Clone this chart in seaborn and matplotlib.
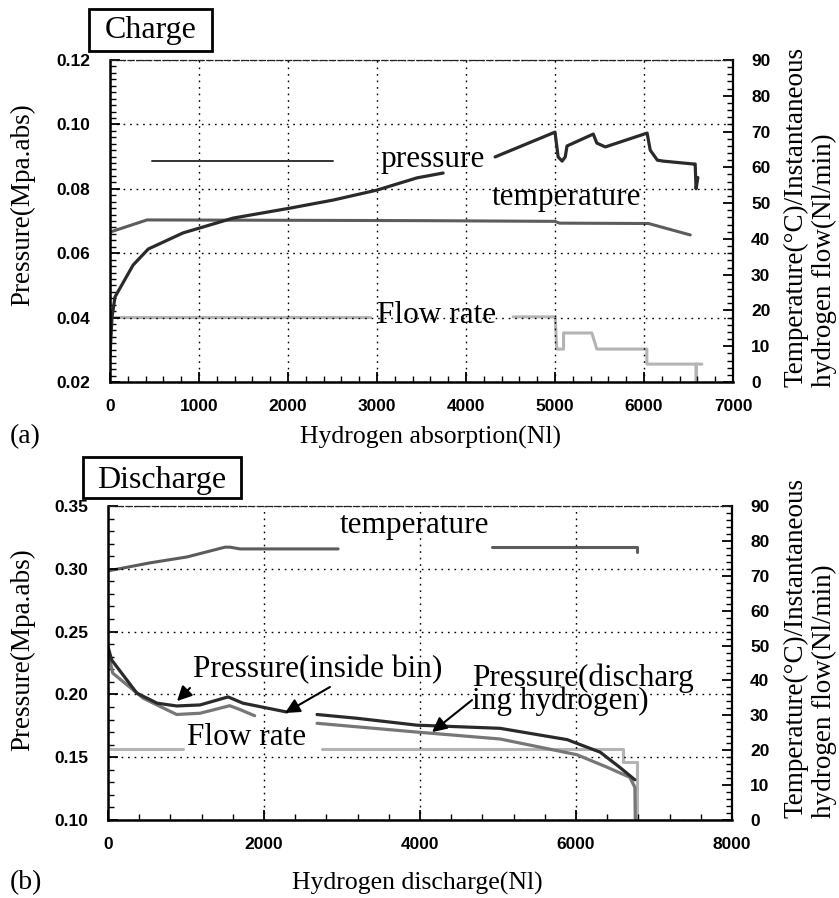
import matplotlib
matplotlib.use("Agg")
import matplotlib.pyplot as plt
import seaborn as sns
from matplotlib.ticker import MultipleLocator
from matplotlib.patches import Rectangle

# ---------------- data ----------------
# (a) Charge
charge_p_x = [0, 22, 56, 259, 430, 821, 1383, 2023, 2507, 3000, 3450, 3743, None,
              4327, 5000, 5035, 5080, 5115, 5135, 5430, 5470, 5565, 6035, 6070, 6150,
              6215, 6555, 6575, 6585, 6605]
charge_p_y = [0.028, 0.040, 0.0464, 0.0563, 0.0613, 0.0663, 0.0709, 0.0740, 0.0765, 0.0796,
              0.0834, 0.0849, None,
              0.0899, 0.0976, 0.0899, 0.0886, 0.0899, 0.0933, 0.0970, 0.0942, 0.0930, 0.0973,
              0.0920, 0.0889, 0.0886, 0.0877, 0.0877, 0.0800, 0.0835]
charge_t_x = [0, 416, 3500, 5000, 5050, 6050, 6520]
charge_t_y = [41.9, 45.3, 45.1, 44.9, 44.4, 44.3, 41.1]
charge_f_x = [0, 2922, None, 4530, 5002, 5020, 5096, 5096, 5414, 5470, 6032, 6032,
              6587, 6587, 6587, 6650]
charge_f_y = [18.2, 18.2, None, 18.2, 18.2, 9.2, 9.2, 13.7, 13.7, 9.2, 9.2, 5.0,
              5.0, 0.0, 5.0, 5.0]
charge_ref_x = [470, 2500]
charge_ref_y = [0.0885, 0.0885]

# (b) Discharge
dis_pin_x = [0, 47, 370, 630, 880, 1180, 1540, 1730, 2290, None,
             2680, 3190, 3960, 5026, 5885, 6310, 6560, 6755]
dis_pin_y = [0.238, 0.2274, 0.201, 0.193, 0.1908, 0.1916, 0.198, 0.193, 0.186, None,
             0.184, 0.181, 0.1755, 0.173, 0.164, 0.154, 0.142, 0.132]
dis_ph_x = [0, 60, 450, 880, 1180, 1560, 1690, 1880, None,
            2680, 3960, 5026, 6010, 6400, 6690, 6755, 6760]
dis_ph_y = [0.234, 0.217, 0.197, 0.184, 0.185, 0.191, 0.188, 0.183, None,
            0.177, 0.170, 0.1645, 0.152, 0.142, 0.134, 0.126, 0.100]
dis_t_x = [0, 538, 1013, 1500, 1564, 1692, 2950, None, 4923, 6782, 6782]
dis_t_y = [71.4, 73.7, 75.4, 78.2, 78.2, 77.7, 77.7, None, 78.2, 78.2, 76.8]
dis_f_x = [0, 960, None, 2740, 6603, 6603, 6777, 6777]
dis_f_y = [20.3, 20.3, None, 20.3, 20.3, 16.7, 16.7, 0.0]

charge_xticks = [0, 1000, 2000, 3000, 4000, 5000, 6000, 7000]
charge_yticks = [0.02, 0.04, 0.06, 0.08, 0.10, 0.12]
dis_xticks = [0, 2000, 4000, 6000, 8000]
dis_yticks = [0.10, 0.15, 0.20, 0.25, 0.30, 0.35]
right_ticks = [0, 10, 20, 30, 40, 50, 60, 70, 80, 90]

C_P = "#2a2a2a"
C_T = "#5c5c5c"
C_F = "#b4b4b4"
C_PH = "#777777"

# ---------------- style ----------------
sns.set_style("ticks")
plt.rcParams["font.family"] = ["Liberation Serif", "DejaVu Serif"]
plt.rcParams["text.color"] = "black"
plt.rcParams["xtick.color"] = "black"
plt.rcParams["ytick.color"] = "black"
plt.rcParams["xtick.labelcolor"] = "black"
plt.rcParams["ytick.labelcolor"] = "black"

fig = plt.figure(figsize=(8.39, 8.98), dpi=100)
W, H = 839, 898


def fx(px):
    return px / W


def fy(py):
    return 1 - py / H


def segments(xs, ys):
    segs, cx, cy = [], [], []
    for x, y in zip(xs, ys):
        if x is None:
            if cx:
                segs.append((cx, cy))
            cx, cy = [], []
        else:
            cx.append(x)
            cy.append(y)
    if cx:
        segs.append((cx, cy))
    return segs


def draw(ax, xs, ys, color, lw):
    for sx, sy in segments(xs, ys):
        sns.lineplot(x=sx, y=sy, ax=ax, color=color, lw=lw, estimator=None,
                     sort=False, legend=False)


TICKFONT = dict(fontfamily="Liberation Sans", fontweight="bold", fontsize=12.5,
                color="black")


def style(ax, ax2, xticks, yticks, xminor, yminor, yfmt):
    ax.set_xlim(xticks[0], xticks[-1])
    ax.set_ylim(yticks[0], yticks[-1])
    ax.set_xticks(xticks)
    ax.set_xticklabels([str(v) for v in xticks], **TICKFONT)
    ax.set_yticks(yticks)
    ax.set_yticklabels([yfmt % v for v in yticks], **TICKFONT)
    ax.xaxis.set_minor_locator(MultipleLocator(xminor))
    ax.yaxis.set_minor_locator(MultipleLocator(yminor))
    ax.tick_params(which="both", direction="in", top=False, right=False,
                   color="black")
    ax.tick_params(which="major", length=7, width=1.3)
    ax.tick_params(which="minor", length=4, width=1.0)
    ax.tick_params(axis="x", pad=12)
    ax.tick_params(axis="y", pad=14)
    ax.grid(True, which="major", ls=(0, (1.2, 3.5)), color="black", lw=1.0)
    for s in ("left", "bottom"):
        ax.spines[s].set_linewidth(1.8)
        ax.spines[s].set_color("black")
    ax.spines["top"].set_linewidth(0.9)
    ax.spines["top"].set_linestyle((0, (5, 2)))
    ax.spines["top"].set_color("#222222")
    ax.spines["right"].set_visible(False)

    ax2.set_ylim(0, 90)
    ax2.set_yticks(right_ticks)
    ax2.set_yticklabels([str(v) for v in right_ticks], **TICKFONT)
    ax2.yaxis.set_minor_locator(MultipleLocator(2))
    ax2.tick_params(which="both", direction="in", left=False, right=True,
                    color="black", pad=13)
    ax2.tick_params(which="major", length=7, width=1.3)
    ax2.tick_params(which="minor", length=4, width=1.0)
    for s in ("left", "top", "bottom"):
        ax2.spines[s].set_visible(False)
    ax2.spines["right"].set_linewidth(1.6)
    ax2.spines["right"].set_color("black")
    ax.set_xlabel("")
    ax.set_ylabel("")
    ax2.set_ylabel("")


ANN = dict(fontsize=22.5, color="black")
YLAB = dict(fontsize=19.5, color="black")
XLAB = dict(fontsize=18.5, color="black")

# ---------------- (a) Charge ----------------
ax1 = fig.add_axes([fx(110), fy(382), (733 - 110) / W, (382 - 60) / H])
ax1b = ax1.twinx()
draw(ax1, charge_ref_x, charge_ref_y, "#333333", 1.4)
draw(ax1b, charge_f_x, charge_f_y, C_F, 2.2)
draw(ax1b, charge_t_x, charge_t_y, C_T, 2.2)
draw(ax1, charge_p_x, charge_p_y, C_P, 2.3)
style(ax1, ax1b, charge_xticks, charge_yticks, 200, 0.002, "%.2f")
ax1.set_zorder(ax1b.get_zorder() + 1)
ax1.patch.set_visible(False)

ax1.text(3035, 0.0868, "pressure", ha="left", va="baseline", **ANN)
ax1.text(4294, 0.0750, "temperature", ha="left", va="baseline", **ANN)
ax1.text(3001, 0.0383, "Flow rate", ha="left", va="baseline", **ANN)

# ---------------- (b) Discharge ----------------
ax3 = fig.add_axes([fx(108), fy(820), (732 - 108) / W, (820 - 506) / H])
ax3b = ax3.twinx()
draw(ax3b, dis_f_x, dis_f_y, C_F, 2.2)
draw(ax3b, dis_t_x, dis_t_y, C_T, 2.2)
draw(ax3, dis_ph_x, dis_ph_y, C_PH, 2.3)
draw(ax3, dis_pin_x, dis_pin_y, C_P, 2.3)
style(ax3, ax3b, dis_xticks, dis_yticks, 400, 0.01, "%.2f")
ax3.set_zorder(ax3b.get_zorder() + 1)
ax3.patch.set_visible(False)

ax3.text(2974, 0.3285, "temperature", ha="left", va="baseline", **ANN)
ax3.text(1090, 0.2139, "Pressure(inside bin)", ha="left", va="baseline", **ANN)
ax3.text(1013, 0.1597, "Flow rate", ha="left", va="baseline", **ANN)
ax3.text(4667, 0.2248, "Pressure(discharg\ning hydrogen)", ha="left", va="top",
         linespacing=0.72, multialignment="left", **ANN)

arrow = dict(arrowstyle="-|>", color="black", lw=1.5, mutation_scale=22,
             shrinkA=0, shrinkB=0)
ax3.annotate("", xy=(885, 0.1947), xytext=(1051, 0.2051), arrowprops=arrow)
ax3.annotate("", xy=(2269, 0.1852), xytext=(2846, 0.2059), arrowprops=arrow)
ax3.annotate("", xy=(4154, 0.1700), xytext=(4667, 0.1955), arrowprops=arrow)

# ---------------- figure texts ----------------
fig.add_artist(Rectangle((fx(89), fy(51)), (212 - 89) / W, (51 - 9) / H,
                         transform=fig.transFigure, fill=False, ec="black", lw=2))
fig.text(fx(151), fy(38), "Charge", ha="center", va="baseline", fontsize=23)
fig.add_artist(Rectangle((fx(83), fy(498)), (241 - 83) / W, (498 - 457) / H,
                         transform=fig.transFigure, fill=False, ec="black", lw=2))
fig.text(fx(162), fy(488), "Discharge", ha="center", va="baseline", fontsize=23)

fig.text(fx(23), fy(205), "Pressure(Mpa.abs)", rotation=90, ha="center",
         va="center", **YLAB)
fig.text(fx(23), fy(650), "Pressure(Mpa.abs)", rotation=90, ha="center",
         va="center", **YLAB)

for ybot in (387, 818):
    fig.text(fx(796), fy(ybot), "Temperature(°C)/Instantaneous", rotation=90,
             ha="center", va="bottom", **YLAB)
    fig.text(fx(824), fy(ybot), "hydrogen flow(Nl/min)", rotation=90,
             ha="center", va="bottom", **YLAB)

fig.text(fx(10), fy(437), "(a)", ha="left", va="center", fontsize=20)
fig.text(fx(430), fy(437), "Hydrogen absorption(Nl)", ha="center", va="center", **XLAB)
fig.text(fx(10), fy(883), "(b)", ha="left", va="center", fontsize=20)
fig.text(fx(417), fy(883), "Hydrogen discharge(Nl)", ha="center", va="center", **XLAB)

fig.savefig("out.png", dpi=100, facecolor="white")
